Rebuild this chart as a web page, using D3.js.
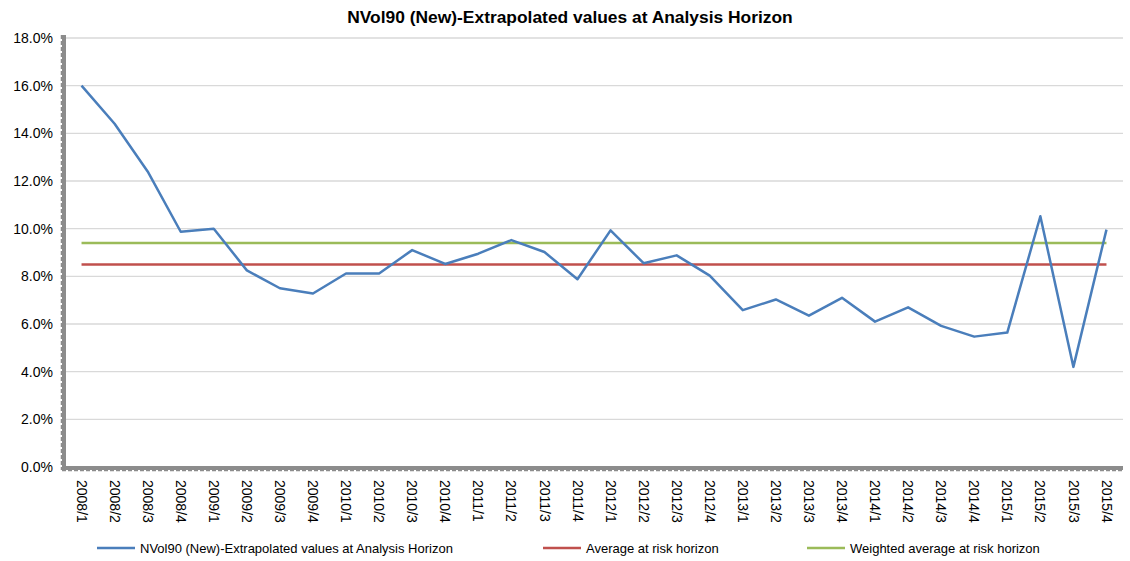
<!DOCTYPE html>
<html>
<head>
<meta charset="utf-8">
<script src="https://cdn.jsdelivr.net/npm/d3@7"></script>
<style>
  body { margin: 0; background: #fff; }
  svg { font-family: "Liberation Sans", Arial, sans-serif; }
</style>
</head>
<body>
<div id="chart"></div>
<script>
// Quarters on the category axis
const quarters = [
  "2008/1", "2008/2", "2008/3", "2008/4", "2009/1", "2009/2", "2009/3", "2009/4",
  "2010/1", "2010/2", "2010/3", "2010/4", "2011/1", "2011/2", "2011/3", "2011/4",
  "2012/1", "2012/2", "2012/3", "2012/4", "2013/1", "2013/2", "2013/3", "2013/4",
  "2014/1", "2014/2", "2014/3", "2014/4", "2015/1", "2015/2", "2015/3", "2015/4"
];

// NVol90 extrapolated values (%)
const nvolValues = [
  16.0, 14.4, 12.4, 9.87, 10.0, 8.25, 7.5, 7.28,
  8.12, 8.12, 9.1, 8.52, 8.95, 9.52, 9.02, 7.88,
  9.93, 8.55, 8.88, 8.03, 6.58, 7.03, 6.35, 7.1,
  6.1, 6.7, 5.92, 5.47, 5.64, 10.52, 4.2, 9.96
];

const averageValue = 8.5;
const weightedAverageValue = 9.4;

const yTicks = [0, 2, 4, 6, 8, 10, 12, 14, 16, 18];

const seriesNames = [
  "NVol90 (New)-Extrapolated values at Analysis Horizon",
  "Average at risk horizon",
  "Weighted average at risk horizon"
];
const seriesColors = ["#4a7ebb", "#c0504d", "#9bbb59"];

const width = 1130, height = 561;
const margin = { top: 38, right: 7, bottom: 94, left: 65 };

const svg = d3.select("#chart").append("svg")
  .attr("width", width)
  .attr("height", height);

const x = d3.scaleBand()
  .domain(quarters)
  .range([margin.left, width - margin.right]);

const y = d3.scaleLinear()
  .domain([0, 18])
  .range([height - margin.bottom, margin.top]);

const xc = d => x(d) + x.bandwidth() / 2;

// Title
svg.append("text")
  .attr("x", 570)
  .attr("y", 23)
  .attr("text-anchor", "middle")
  .style("font-size", "17.4px")
  .style("font-weight", "bold")
  .text("NVol90 (New)-Extrapolated values at Analysis Horizon");

// Gridlines
svg.append("g")
  .selectAll("line")
  .data(yTicks.filter(t => t > 0))
  .join("line")
  .attr("x1", margin.left)
  .attr("x2", width - margin.right)
  .attr("y1", d => y(d))
  .attr("y2", d => y(d))
  .attr("stroke", "#d9d9d9")
  .attr("stroke-width", 1.3);

// Y axis
const yAxis = svg.append("g")
  .attr("transform", `translate(${margin.left},0)`)
  .call(d3.axisLeft(y).tickValues(yTicks).tickSize(0).tickPadding(12)
    .tickFormat(d => d.toFixed(1) + "%"));
yAxis.select(".domain").remove();
yAxis.selectAll("text")
  .style("font-size", "14px")
  .attr("fill", "#000");

// X axis labels
const xAxis = svg.append("g")
  .attr("transform", `translate(0,${height - margin.bottom})`)
  .call(d3.axisBottom(x).tickSize(0).tickPadding(0));
xAxis.select(".domain").remove();
xAxis.selectAll("text")
  .style("font-size", "14px")
  .attr("fill", "#000")
  .attr("text-anchor", "start")
  .attr("dy", "0.35em")
  .attr("transform", "translate(0,13) rotate(90)")
  .attr("y", 0)
  .attr("x", 0);

// Axis lines: thick grey with dashed outer edge
const axisColor = "#8c8c8c";
const y0 = y(0);
svg.append("line")
  .attr("x1", margin.left - 1).attr("x2", margin.left - 1)
  .attr("y1", margin.top - 3).attr("y2", y0 + 3)
  .attr("stroke", axisColor).attr("stroke-width", 4);
svg.append("line")
  .attr("x1", margin.left - 3.5).attr("x2", margin.left - 3.5)
  .attr("y1", margin.top - 3).attr("y2", y0 + 3)
  .attr("stroke", axisColor).attr("stroke-width", 1.5)
  .attr("stroke-dasharray", "4,2");
svg.append("line")
  .attr("x1", margin.left - 3).attr("x2", width - margin.right)
  .attr("y1", y0 + 1).attr("y2", y0 + 1)
  .attr("stroke", axisColor).attr("stroke-width", 4);
svg.append("line")
  .attr("x1", margin.left - 3).attr("x2", width - margin.right)
  .attr("y1", y0 + 3.5).attr("y2", y0 + 3.5)
  .attr("stroke", axisColor).attr("stroke-width", 1.5)
  .attr("stroke-dasharray", "4,2");

// Average lines
const first = quarters[0], last = quarters[quarters.length - 1];
[[averageValue, seriesColors[1]], [weightedAverageValue, seriesColors[2]]].forEach(([v, c]) => {
  svg.append("line")
    .attr("x1", xc(first)).attr("x2", xc(last))
    .attr("y1", y(v)).attr("y2", y(v))
    .attr("stroke", c).attr("stroke-width", 2.5);
});

// Main series
const line = d3.line()
  .x((d, i) => xc(quarters[i]))
  .y(d => y(d));
svg.append("path")
  .datum(nvolValues)
  .attr("fill", "none")
  .attr("stroke", seriesColors[0])
  .attr("stroke-width", 2.5)
  .attr("stroke-linejoin", "round")
  .attr("d", line);

// Legend
const legendX = [97, 543, 807];
const legend = svg.append("g")
  .selectAll("g")
  .data(seriesNames)
  .join("g")
  .attr("transform", (d, i) => `translate(${legendX[i]},548)`);
legend.append("line")
  .attr("x1", 0).attr("x2", 38)
  .attr("stroke", (d, i) => seriesColors[i])
  .attr("stroke-width", 2.5);
legend.append("text")
  .attr("x", 43)
  .attr("dy", "0.35em")
  .style("font-size", "13px")
  .text(d => d);
</script>
</body>
</html>
